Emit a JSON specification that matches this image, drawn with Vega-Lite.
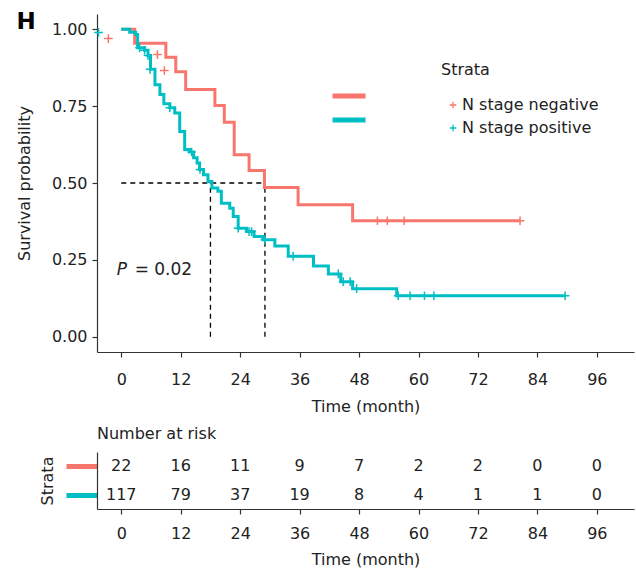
{
  "$schema": "https://vega.github.io/schema/vega-lite/v6.json",
  "padding": {"left": 16, "top": 11, "right": 2, "bottom": 5},
  "title": {"text": "H", "anchor": "start", "frame": "bounds", "fontSize": 23, "fontWeight": "bold", "font": "DejaVu Sans", "offset": -20, "color": "#000"},
  "config": {
    "font": "DejaVu Sans",
    "view": {"stroke": null},
    "axis": {"grid": false, "domainColor": "#333", "tickColor": "#333", "labelColor": "#222", "titleColor": "#222", "labelFontSize": 16, "titleFontSize": 16, "titleFontWeight": "normal", "labelFont": "DejaVu Sans", "titleFont": "DejaVu Sans", "tickSize": 5, "domainWidth": 1.2, "tickWidth": 1.2},
    "legend": {"labelFontSize": 16, "titleFontSize": 16, "titleFontWeight": "normal", "labelColor": "#222", "titleColor": "#222", "padding": 0},
    "title": {"fontWeight": "normal", "color": "#222"}
  },
  "datasets": {
    "km": [
      {"strata": "N stage negative", "t": 0, "s": 1.0},
      {"strata": "N stage negative", "t": 2.7, "s": 0.955},
      {"strata": "N stage negative", "t": 9.0, "s": 0.909},
      {"strata": "N stage negative", "t": 11.0, "s": 0.862},
      {"strata": "N stage negative", "t": 13.0, "s": 0.804},
      {"strata": "N stage negative", "t": 18.9, "s": 0.752},
      {"strata": "N stage negative", "t": 20.8, "s": 0.698},
      {"strata": "N stage negative", "t": 22.8, "s": 0.592},
      {"strata": "N stage negative", "t": 25.8, "s": 0.541},
      {"strata": "N stage negative", "t": 28.9, "s": 0.485},
      {"strata": "N stage negative", "t": 35.7, "s": 0.429},
      {"strata": "N stage negative", "t": 46.7, "s": 0.377},
      {"strata": "N stage negative", "t": 80.5, "s": 0.377},
      {"strata": "N stage positive", "t": 0, "s": 1.0},
      {"strata": "N stage positive", "t": 1.7, "s": 0.991},
      {"strata": "N stage positive", "t": 2.9, "s": 0.983},
      {"strata": "N stage positive", "t": 3.3, "s": 0.94},
      {"strata": "N stage positive", "t": 4.7, "s": 0.932},
      {"strata": "N stage positive", "t": 5.4, "s": 0.915},
      {"strata": "N stage positive", "t": 5.9, "s": 0.87},
      {"strata": "N stage positive", "t": 6.8, "s": 0.82},
      {"strata": "N stage positive", "t": 7.8, "s": 0.788},
      {"strata": "N stage positive", "t": 8.6, "s": 0.758},
      {"strata": "N stage positive", "t": 9.8, "s": 0.745},
      {"strata": "N stage positive", "t": 10.8, "s": 0.728},
      {"strata": "N stage positive", "t": 11.8, "s": 0.668},
      {"strata": "N stage positive", "t": 12.8, "s": 0.609},
      {"strata": "N stage positive", "t": 13.8, "s": 0.601},
      {"strata": "N stage positive", "t": 14.6, "s": 0.582},
      {"strata": "N stage positive", "t": 15.3, "s": 0.565},
      {"strata": "N stage positive", "t": 15.8, "s": 0.544},
      {"strata": "N stage positive", "t": 16.6, "s": 0.527},
      {"strata": "N stage positive", "t": 17.5, "s": 0.505},
      {"strata": "N stage positive", "t": 18.3, "s": 0.484},
      {"strata": "N stage positive", "t": 19.5, "s": 0.473},
      {"strata": "N stage positive", "t": 20.2, "s": 0.434},
      {"strata": "N stage positive", "t": 21.9, "s": 0.418},
      {"strata": "N stage positive", "t": 22.6, "s": 0.391},
      {"strata": "N stage positive", "t": 23.6, "s": 0.353},
      {"strata": "N stage positive", "t": 25.3, "s": 0.342},
      {"strata": "N stage positive", "t": 26.8, "s": 0.326},
      {"strata": "N stage positive", "t": 28.6, "s": 0.315},
      {"strata": "N stage positive", "t": 31.0, "s": 0.295},
      {"strata": "N stage positive", "t": 33.7, "s": 0.262},
      {"strata": "N stage positive", "t": 38.8, "s": 0.23},
      {"strata": "N stage positive", "t": 41.8, "s": 0.204},
      {"strata": "N stage positive", "t": 44.3, "s": 0.179},
      {"strata": "N stage positive", "t": 46.7, "s": 0.156},
      {"strata": "N stage positive", "t": 55.6, "s": 0.133},
      {"strata": "N stage positive", "t": 89.6, "s": 0.133}
    ],
    "censor": [
      {"strata": "N stage negative", "t": -2.6, "s": 0.97},
      {"strata": "N stage negative", "t": 7.3, "s": 0.918},
      {"strata": "N stage negative", "t": 8.7, "s": 0.866},
      {"strata": "N stage negative", "t": 51.7, "s": 0.377},
      {"strata": "N stage negative", "t": 53.7, "s": 0.377},
      {"strata": "N stage negative", "t": 57.1, "s": 0.377},
      {"strata": "N stage negative", "t": 80.5, "s": 0.377},
      {"strata": "N stage positive", "t": -4.6, "s": 0.99},
      {"strata": "N stage positive", "t": 3.7, "s": 0.94},
      {"strata": "N stage positive", "t": 4.7, "s": 0.932},
      {"strata": "N stage positive", "t": 5.4, "s": 0.915},
      {"strata": "N stage positive", "t": 5.8, "s": 0.87},
      {"strata": "N stage positive", "t": 9.8, "s": 0.745},
      {"strata": "N stage positive", "t": 14.2, "s": 0.601},
      {"strata": "N stage positive", "t": 15.9, "s": 0.544},
      {"strata": "N stage positive", "t": 23.6, "s": 0.353},
      {"strata": "N stage positive", "t": 25.8, "s": 0.342},
      {"strata": "N stage positive", "t": 26.3, "s": 0.342},
      {"strata": "N stage positive", "t": 29.0, "s": 0.315},
      {"strata": "N stage positive", "t": 34.7, "s": 0.262},
      {"strata": "N stage positive", "t": 43.8, "s": 0.204},
      {"strata": "N stage positive", "t": 44.8, "s": 0.179},
      {"strata": "N stage positive", "t": 46.2, "s": 0.179},
      {"strata": "N stage positive", "t": 47.5, "s": 0.156},
      {"strata": "N stage positive", "t": 55.9, "s": 0.133},
      {"strata": "N stage positive", "t": 58.3, "s": 0.133},
      {"strata": "N stage positive", "t": 61.2, "s": 0.133},
      {"strata": "N stage positive", "t": 63.1, "s": 0.133},
      {"strata": "N stage positive", "t": 89.6, "s": 0.133}
    ],
    "median": [
      {"t": 0, "t2": 29, "s": 0.5, "s2": 0.5},
      {"t": 18, "t2": 18, "s": 0, "s2": 0.5},
      {"t": 29, "t2": 29, "s": 0, "s2": 0.5}
    ],
    "risk": [
      {"strata": "N stage negative", "t": 0, "n": 22},
      {"strata": "N stage negative", "t": 12, "n": 16},
      {"strata": "N stage negative", "t": 24, "n": 11},
      {"strata": "N stage negative", "t": 36, "n": 9},
      {"strata": "N stage negative", "t": 48, "n": 7},
      {"strata": "N stage negative", "t": 60, "n": 2},
      {"strata": "N stage negative", "t": 72, "n": 2},
      {"strata": "N stage negative", "t": 84, "n": 0},
      {"strata": "N stage negative", "t": 96, "n": 0},
      {"strata": "N stage positive", "t": 0, "n": 117},
      {"strata": "N stage positive", "t": 12, "n": 79},
      {"strata": "N stage positive", "t": 24, "n": 37},
      {"strata": "N stage positive", "t": 36, "n": 19},
      {"strata": "N stage positive", "t": 48, "n": 8},
      {"strata": "N stage positive", "t": 60, "n": 4},
      {"strata": "N stage positive", "t": 72, "n": 1},
      {"strata": "N stage positive", "t": 84, "n": 1},
      {"strata": "N stage positive", "t": 96, "n": 0}
    ]
  },
  "vconcat": [
    {
      "width": 537,
      "height": 338,
      "encoding": {
        "x": {"field": "t", "type": "quantitative", "scale": {"domain": [-4.9, 103.5], "nice": false, "zero": false},
              "axis": {"values": [0, 12, 24, 36, 48, 60, 72, 84, 96], "title": "Time (month)", "labelPadding": 14, "titlePadding": 11}},
        "y": {"field": "s", "type": "quantitative", "scale": {"domain": [-0.05, 1.05], "nice": false, "zero": false},
              "axis": {"values": [0, 0.25, 0.5, 0.75, 1], "format": ".2f", "title": "Survival probability", "labelPadding": 5, "titlePadding": 19}}
      },
      "layer": [
        {
          "data": {"name": "median"},
          "mark": {"type": "rule", "strokeDash": [5, 4], "color": "#000", "strokeWidth": 1.3},
          "encoding": {"x2": {"field": "t2"}, "y2": {"field": "s2"}}
        },
        {
          "data": {"name": "km"},
          "mark": {"type": "line", "interpolate": "step-after", "strokeWidth": 3},
          "encoding": {
            "stroke": {"field": "strata", "type": "nominal",
              "scale": {"domain": ["N stage negative", "N stage positive", "other"], "range": ["#F8766D", "#00BFC4", "#999999"]},
              "legend": {"values": ["N stage negative", "N stage positive"], "title": null, "orient": "none", "legendX": 244, "legendY": 74, "labelExpr": "''", "labelFontSize": 1, "symbolType": "M-3,0H3", "symbolSize": 121, "symbolStrokeWidth": 5, "rowPadding": 4, "labelOffset": 0}}
          }
        },
        {
          "data": {"name": "censor"},
          "mark": {"type": "point", "shape": "M-1,0H1M0,-1V1", "filled": false, "strokeWidth": 1.5, "size": 75, "opacity": 1},
          "encoding": {
            "color": {"field": "strata", "type": "nominal",
              "scale": {"domain": ["N stage negative", "N stage positive"], "range": ["#F8766D", "#00BFC4"]},
              "legend": {"title": "Strata", "orient": "none", "legendX": 344, "legendY": 48, "symbolType": "M-1,0H1M0,-1V1", "symbolSize": 45, "symbolStrokeWidth": 1.3, "symbolOffset": 4, "labelOffset": 1, "titlePadding": 19, "rowPadding": 7}}
          }
        },
        {
          "data": {"values": [{"t": -0.9, "s": 0.217, "label": "P"}]},
          "mark": {"type": "text", "fontStyle": "italic", "fontSize": 17, "align": "left", "color": "#222"},
          "encoding": {"text": {"field": "label"}}
        },
        {
          "data": {"values": [{"t": 2.7, "s": 0.217, "label": "= 0.02"}]},
          "mark": {"type": "text", "fontSize": 17, "align": "left", "color": "#222"},
          "encoding": {"text": {"field": "label"}}
        }
      ]
    },
    {
      "width": 537,
      "height": 57,
      "title": {"text": "Number at risk", "anchor": "start", "fontSize": 16, "offset": 10, "frame": "group"},
      "data": {"name": "risk"},
      "mark": {"type": "text", "fontSize": 16, "color": "#222"},
      "encoding": {
        "x": {"field": "t", "type": "quantitative", "scale": {"domain": [-4.9, 103.5], "nice": false, "zero": false},
              "axis": {"values": [0, 12, 24, 36, 48, 60, 72, 84, 96], "title": "Time (month)", "labelPadding": 11, "titlePadding": 10}},
        "y": {"field": "strata", "type": "nominal",
              "scale": {"type": "point", "domain": ["N stage negative", "N stage positive"], "padding": 0.5},
              "axis": {"labels": false, "tickSize": 31, "tickWidth": 5,
                       "tickColor": {"condition": {"test": "datum.value === 'N stage negative'", "value": "#F8766D"}, "value": "#00BFC4"},
                       "title": "Strata", "titlePadding": 8}},
        "text": {"field": "n", "type": "quantitative"}
      }
    }
  ],
  "spacing": 12
}
